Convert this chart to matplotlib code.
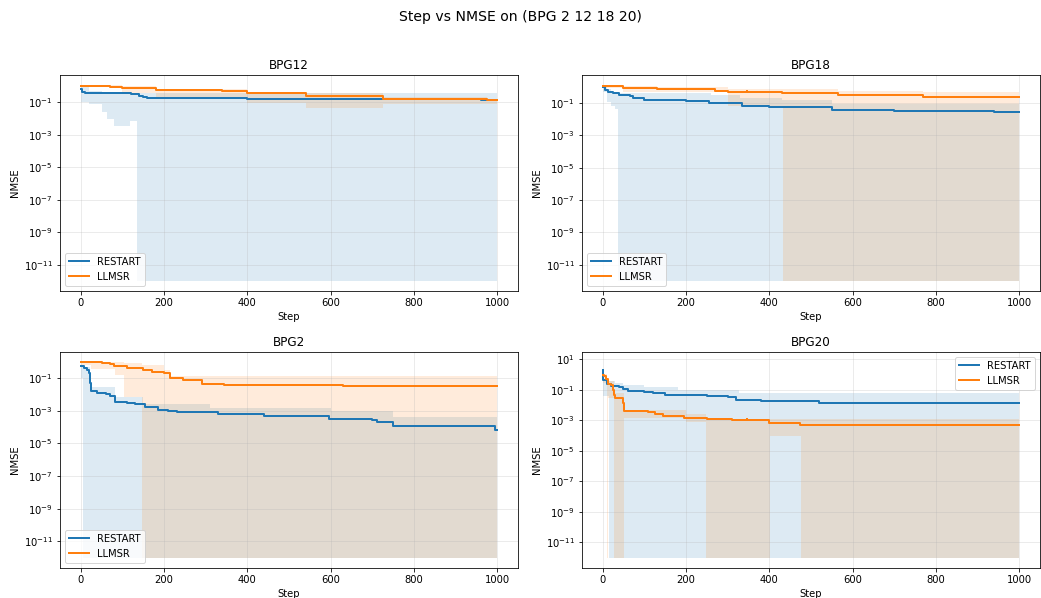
import numpy as np
import matplotlib
matplotlib.use('Agg')
import matplotlib.pyplot as plt

# ======================================================================
# DONNEES - courbes en escalier + bandes min/max
# ======================================================================
FLOOR = 1e-12

# --- BPG12 ---
bpg12_restart_x = [0, 3, 10, 60, 120, 140, 150, 160, 250, 400, 600, 800, 960, 1000]
bpg12_restart_y = [0.7, 0.45, 0.38, 0.35, 0.32, 0.25, 0.21, 0.19, 0.18, 0.17, 0.16, 0.155, 0.13, 0.13]
bpg12_restart_bx = [0, 20, 50, 62, 80, 118, 135, 1000]
bpg12_restart_lo = [0.1, 0.08, 0.025, 0.009, 0.0033, 0.007, FLOOR, FLOOR]
bpg12_restart_hi = [1.0, 0.5, 0.45, 0.45, 0.42, 0.4, 0.38, 0.38]

bpg12_llmsr_x = [0, 70, 100, 180, 340, 400, 540, 725, 975, 1000]
bpg12_llmsr_y = [1.0, 0.9, 0.75, 0.57, 0.48, 0.37, 0.26, 0.17, 0.13, 0.13]
bpg12_llmsr_bx = [0, 100, 180, 400, 540, 725, 975, 1000]
bpg12_llmsr_lo = [0.85, 0.4, 0.22, 0.09, 0.043, 0.075, 0.075, 0.075]
bpg12_llmsr_hi = [1.2, 0.95, 0.7, 0.45, 0.35, 0.22, 0.16, 0.16]

# --- BPG18 ---
bpg18_restart_x = [0, 5, 12, 25, 40, 65, 72, 100, 160, 200, 255, 335, 400, 550, 600, 700, 780, 940, 1000]
bpg18_restart_y = [0.95, 0.6, 0.45, 0.38, 0.3, 0.28, 0.19, 0.16, 0.15, 0.13, 0.1, 0.068, 0.057,
                   0.036, 0.034, 0.032, 0.03, 0.027, 0.027]
bpg18_restart_bx = [0, 10, 20, 30, 37, 260, 330, 430, 550, 1000]
bpg18_restart_lo = [0.5, 0.12, 0.06, 0.04, FLOOR, FLOOR, FLOOR, FLOOR, FLOOR, FLOOR]
bpg18_restart_hi = [1.3, 0.7, 0.5, 0.45, 0.42, 0.3, 0.2, 0.15, 0.08, 0.08]

bpg18_llmsr_x = [0, 50, 130, 270, 300, 346, 347, 430, 565, 770, 1000]
bpg18_llmsr_y = [1.05, 0.85, 0.68, 0.52, 0.45, 0.55, 0.45, 0.39, 0.31, 0.245, 0.245]
bpg18_llmsr_bx = [0, 50, 130, 300, 432, 565, 770, 1000]
bpg18_llmsr_lo = [0.8, 0.5, 0.45, 0.06, FLOOR, FLOOR, FLOOR, FLOOR]
bpg18_llmsr_hi = [1.3, 1.05, 0.9, 0.75, 0.7, 0.55, 0.5, 0.5]

# --- BPG2 ---
bpg2_restart_x = [0, 8, 15, 20, 22, 25, 40, 60, 70, 81, 110, 130, 155, 185, 210, 230, 330, 440,
                  595, 700, 710, 750, 800, 995, 1000]
bpg2_restart_y = [0.52, 0.4, 0.3, 0.2, 0.05, 0.016, 0.013, 0.01, 0.0078, 0.0037, 0.003, 0.0026,
                  0.0016, 0.0012, 0.001, 0.00085, 0.00067, 0.00046, 0.00032, 0.00027, 0.00022,
                  0.000125, 0.00011, 6.6e-5, 6.6e-5]
bpg2_restart_bx = [0, 6, 22, 83, 150, 310, 600, 750, 1000]
bpg2_restart_lo = [0.1, FLOOR, FLOOR, FLOOR, FLOOR, FLOOR, FLOOR, FLOOR, FLOOR]
bpg2_restart_hi = [0.55, 0.5, 0.03, 0.007, 0.0025, 0.0015, 0.001, 0.0004, 0.0004]

bpg2_llmsr_x = [0, 50, 70, 80, 110, 150, 170, 200, 215, 245, 290, 345, 630, 1000]
bpg2_llmsr_y = [1.0, 0.9, 0.75, 0.55, 0.4, 0.3, 0.25, 0.2, 0.1, 0.072, 0.047, 0.039, 0.035, 0.035]
bpg2_llmsr_bx = [0, 25, 83, 103, 148, 200, 215, 1000]
bpg2_llmsr_lo = [0.6, 0.35, 0.15, 0.007, FLOOR, FLOOR, FLOOR, FLOOR]
bpg2_llmsr_hi = [1.05, 1.0, 0.95, 0.8, 0.6, 0.3, 0.13, 0.13]

# --- BPG20 ---
bpg20_restart_x = [0, 2, 10, 20, 40, 50, 60, 100, 120, 150, 250, 300, 320, 380, 520, 745, 1000]
bpg20_restart_y = [2.1, 0.47, 0.24, 0.19, 0.15, 0.11, 0.085, 0.07, 0.06, 0.046, 0.04, 0.035,
                   0.023, 0.019, 0.015, 0.013, 0.013]
bpg20_restart_bx = [0, 1, 16, 30, 50, 100, 180, 327, 346, 347, 1000]
bpg20_restart_lo = [0.3, 0.04, FLOOR, FLOOR, FLOOR, FLOOR, FLOOR, FLOOR, 5e-6, FLOOR, FLOOR]
bpg20_restart_hi = [7.4, 0.45, 0.4, 0.3, 0.2, 0.15, 0.1, 0.068, 0.068, 0.068, 0.068]

bpg20_llmsr_x = [0, 3, 8, 13, 20, 25, 28, 30, 50, 52, 110, 125, 145, 195, 250, 310, 346, 347,
                 400, 475, 1000]
bpg20_llmsr_y = [1.0, 0.8, 0.5, 0.25, 0.2, 0.1, 0.05, 0.03, 0.013, 0.004, 0.0035, 0.0026, 0.0019,
                 0.0015, 0.0013, 0.001, 0.0013, 0.001, 0.0007, 0.00052, 0.00052]
bpg20_llmsr_bx = [0, 10, 12, 28, 52, 200, 247, 346, 347, 402, 476, 1000]
bpg20_llmsr_lo = [0.3, FLOOR, 0.03, FLOOR, 0.0015, 0.0008, FLOOR, 5e-6, FLOOR, 1e-4, FLOOR, FLOOR]
bpg20_llmsr_hi = [1.1, 0.5, 0.4, 0.06, 0.005, 0.0025, 0.0013, 0.0013, 0.0013, 0.0013, 0.0013, 0.0013]

C_RESTART = '#1f77b4'
C_LLMSR = '#ff7f0e'


def tracer_panel(ax, titre, restart, llmsr, loc):
    series = [(restart, 'RESTART', C_RESTART), (llmsr, 'LLMSR', C_LLMSR)]
    for (x, y, bx, lo, hi), nom, col in series:
        ax.fill_between(bx, lo, hi, step='post', color=col, alpha=0.15, linewidth=0)
    for (x, y, bx, lo, hi), nom, col in series:
        ax.plot(x, y, drawstyle='steps-post', color=col, lw=2, label=nom)
    ax.set_yscale('log')
    ax.set_title(titre)
    ax.set_ylabel('NMSE')
    ax.set_xlabel('Step')
    ax.grid(True, alpha=0.3)
    ax.legend(loc=loc)


# grande figure rendue à 72 dpi (tailles de texte de la référence)
fig, axes = plt.subplots(2, 2, figsize=(1041 / 72, 598 / 72), dpi=72)
fig.suptitle('Step vs NMSE on (BPG 2 12 18 20)', fontsize=14, y=0.984)

tracer_panel(axes[0, 0], 'BPG12',
             (bpg12_restart_x, bpg12_restart_y, bpg12_restart_bx, bpg12_restart_lo, bpg12_restart_hi),
             (bpg12_llmsr_x, bpg12_llmsr_y, bpg12_llmsr_bx, bpg12_llmsr_lo, bpg12_llmsr_hi), 'lower left')
tracer_panel(axes[0, 1], 'BPG18',
             (bpg18_restart_x, bpg18_restart_y, bpg18_restart_bx, bpg18_restart_lo, bpg18_restart_hi),
             (bpg18_llmsr_x, bpg18_llmsr_y, bpg18_llmsr_bx, bpg18_llmsr_lo, bpg18_llmsr_hi), 'lower left')
tracer_panel(axes[1, 0], 'BPG2',
             (bpg2_restart_x, bpg2_restart_y, bpg2_restart_bx, bpg2_restart_lo, bpg2_restart_hi),
             (bpg2_llmsr_x, bpg2_llmsr_y, bpg2_llmsr_bx, bpg2_llmsr_lo, bpg2_llmsr_hi), 'lower left')
tracer_panel(axes[1, 1], 'BPG20',
             (bpg20_restart_x, bpg20_restart_y, bpg20_restart_bx, bpg20_restart_lo, bpg20_restart_hi),
             (bpg20_llmsr_x, bpg20_llmsr_y, bpg20_llmsr_bx, bpg20_llmsr_lo, bpg20_llmsr_hi), 'upper right')

plt.subplots_adjust(left=0.0576, right=0.999, top=0.8746, bottom=0.051, wspace=0.139, hspace=0.282)
plt.savefig('out.png', dpi=72)
